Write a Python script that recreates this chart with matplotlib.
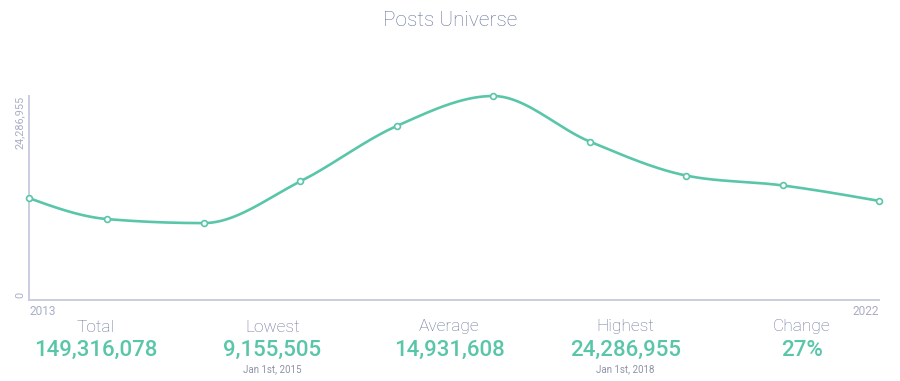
import numpy as np
import pandas as pd
import matplotlib
matplotlib.use("Agg")
import matplotlib.pyplot as plt
import matplotlib.dates as mdates

plt.rcParams['font.family'] = ['Roboto', 'DejaVu Sans']

# data
dates = ["2013-03-10", "2014-01-01", "2015-01-01", "2016-01-01", "2017-01-01",
         "2018-01-01", "2019-01-01", "2020-01-01", "2021-01-01", "2022-01-01"]
posts = [12130000, 9630000, 9155505, 14110000, 20720000,
         24286955, 18870000, 14820000, 13640000, 11800000]

stat_labels = ["Total", "Lowest", "Average", "Highest", "Change"]
stat_values = ["149,316,078", "9,155,505", "14,931,608", "24,286,955", "27%"]
stat_notes = ["", "Jan 1st, 2015", "", "Jan 1st, 2018", ""]

TEAL = "#5ac6a9"
SLATE = "#67739a"
AXIS = "#c9cde0"
TICK = "#a9aec4"


def monotone_x(x, y, n=40):
    # cubic hermite with monotone slopes (same idea as d3 curveMonotoneX)
    x = np.asarray(x, float)
    y = np.asarray(y, float)
    h = np.diff(x)
    s = np.diff(y) / h
    t = np.zeros_like(y)
    for i in range(1, len(y) - 1):
        p = (s[i - 1] * h[i] + s[i] * h[i - 1]) / (h[i - 1] + h[i])
        t[i] = (np.sign(s[i - 1]) + np.sign(s[i])) * min(abs(s[i - 1]), abs(s[i]), 0.5 * abs(p))
    t[0] = (3 * s[0] - t[1]) / 2
    t[-1] = (3 * s[-1] - t[-2]) / 2
    xs, ys = [], []
    for i in range(len(h)):
        u = np.linspace(0, 1, n)
        h00 = 2 * u**3 - 3 * u**2 + 1
        h10 = u**3 - 2 * u**2 + u
        h01 = -2 * u**3 + 3 * u**2
        h11 = u**3 - u**2
        xs.append(x[i] + u * h[i])
        ys.append(h00 * y[i] + h10 * h[i] * t[i] + h01 * y[i + 1] + h11 * h[i] * t[i + 1])
    return np.concatenate(xs), np.concatenate(ys)


xd = mdates.date2num(pd.to_datetime(dates))
xs, ys = monotone_x(xd, posts)

fig = plt.figure(figsize=(9, 3.81), dpi=100)
ax = fig.add_axes([29 / 900, 81 / 381, 850 / 900, 204 / 381])

ax.plot(xs, ys, color=TEAL, lw=1.9, solid_capstyle="round", clip_on=False, zorder=2)
ax.plot(xd, posts, "o", ms=4.2, mfc="white", mec=TEAL, mew=1.2, clip_on=False, zorder=3)

ax.set_xlim(xd[0], xd[-1])
ax.set_ylim(0, max(posts))

for side in ["top", "right"]:
    ax.spines[side].set_visible(False)
for side in ["left", "bottom"]:
    ax.spines[side].set_color(AXIS)
    ax.spines[side].set_linewidth(1.4)
ax.set_xticks([])
ax.set_yticks([])

ax.text(-9 / 850, 1.0, f"{max(posts):,}", transform=ax.transAxes, rotation=90,
        ha="center", va="top", fontsize=7.8, color=TICK)
ax.text(-9 / 850, 0.01, "0", transform=ax.transAxes, rotation=90,
        ha="center", va="bottom", fontsize=7.8, color=TICK)
ax.text(0, -0.025, "2013", transform=ax.transAxes, ha="left", va="top",
        fontsize=8.6, color=TICK)
ax.text(1, -0.025, "2022", transform=ax.transAxes, ha="right", va="top",
        fontsize=8.6, color=TICK)

fig.text(0.5, 1 - 20 / 381, "Posts Universe", ha="center", va="center",
         fontsize=15, color=SLATE, fontweight="light")

for i, (lab, val, note) in enumerate(zip(stat_labels, stat_values, stat_notes)):
    cx = (96 + 176.5 * i) / 900
    fig.text(cx, 1 - 327 / 381, lab, ha="center", va="center",
             fontsize=12.5, color=SLATE, fontweight="light")
    fig.text(cx, 1 - 350 / 381, val, ha="center", va="center",
             fontsize=16, color=TEAL, fontweight="medium")
    if note:
        fig.text(cx, 1 - 369 / 381, note, ha="center", va="center",
                 fontsize=7, color="#8e93a8")

fig.savefig("out.png", dpi=100)
